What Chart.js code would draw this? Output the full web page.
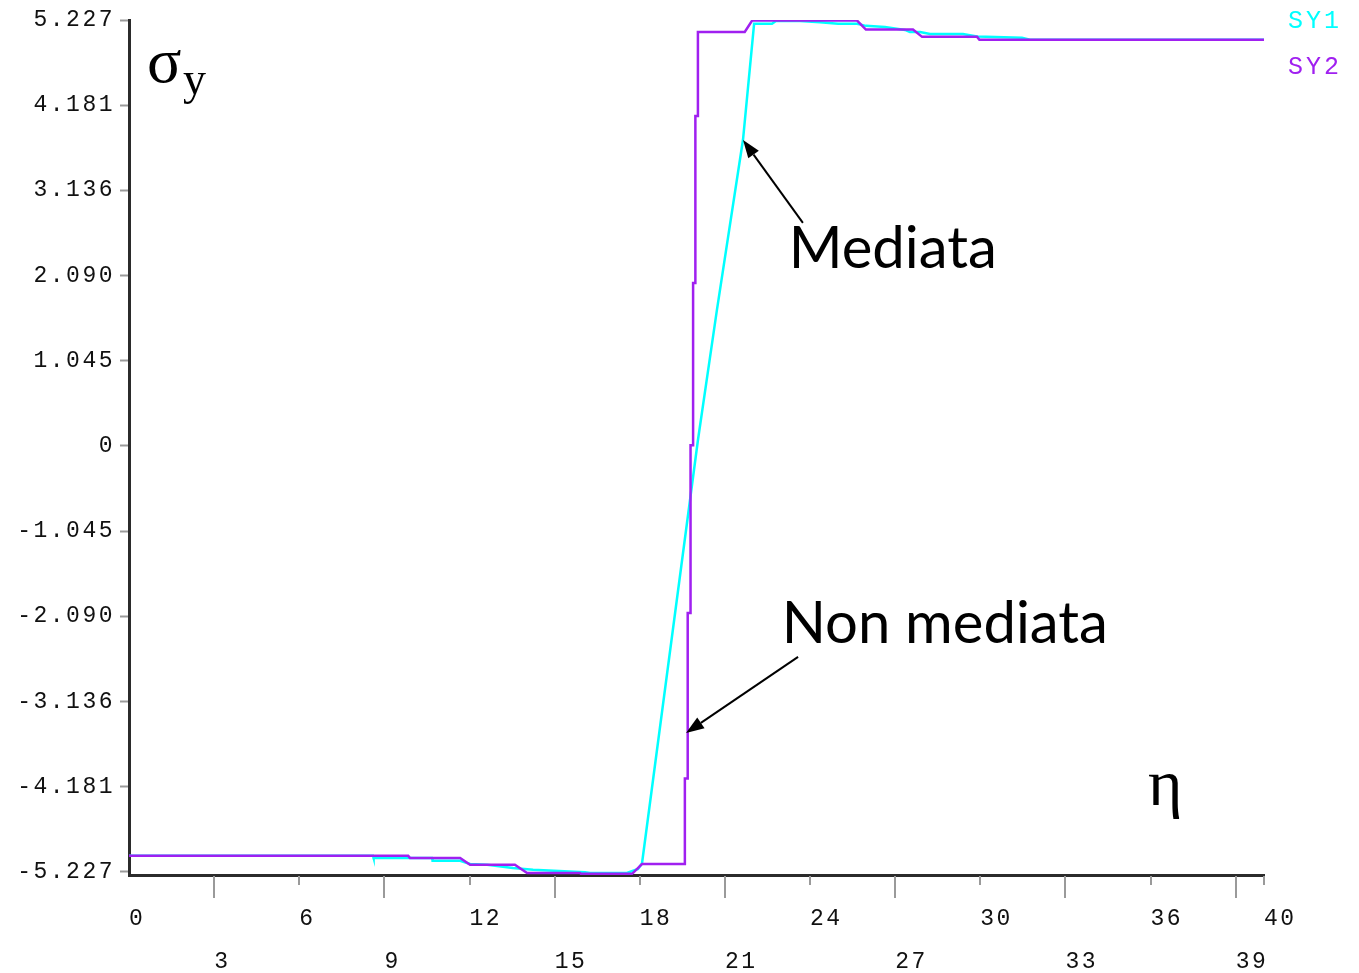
<!DOCTYPE html>
<html>
<head>
<meta charset="utf-8">
<script src="https://cdn.jsdelivr.net/npm/chart.js@4/dist/chart.umd.min.js"></script>
<style>
  html, body { margin: 0; padding: 0; background: #ffffff; }
  #wrap { width: 1359px; height: 973px; }
</style>
</head>
<body>
<div id="wrap"><canvas id="c" width="1359" height="973"></canvas></div>
<script>
// Stress σy along η — averaged (SY1) and non-averaged (SY2) profiles
const sy1X = [0, 8.6, 8.62, 10.68, 10.7, 11.67, 12.02, 12.62, 13.53, 14.24, 16.07, 16.25, 17.55, 17.94, 18.08,
              20.05, 20.72, 21.64, 22.03, 22.66, 22.8, 23.65, 24.35, 24.99, 25.66, 25.97, 26.64, 27.35, 27.52,
              27.88, 28.23, 29.39, 29.89, 31.47, 31.75, 40];
const sy1Y = [-5.03, -5.03, -5.055, -5.055, -5.09, -5.09, -5.13, -5.14, -5.18, -5.2, -5.23, -5.24, -5.24, -5.19, -5.12,
              0.07, 1.67, 3.76, 5.18, 5.18, 5.215, 5.215, 5.2, 5.18, 5.18, 5.155, 5.14, 5.105, 5.08,
              5.08, 5.055, 5.055, 5.025, 5.01, 4.985, 4.985];

const sy2X = [0, 9.84, 9.9, 11.67, 12.02, 13.6, 14.03, 15.89, 15.92, 17.73, 18.08, 19.59, 19.59, 19.69, 19.69,
              19.79, 19.79, 19.88, 19.88, 19.96, 19.96, 20.05, 20.05, 21.7, 21.96, 25.66, 25.97, 27.63, 27.95,
              29.89, 29.97, 40];
const sy2Y = [-5.03, -5.03, -5.055, -5.055, -5.14, -5.14, -5.24, -5.24, -5.25, -5.25, -5.13, -5.13, -4.08, -4.08, -2.05,
              -2.05, 0.01, 0.01, 2.0, 2.0, 4.05, 4.05, 5.08, 5.08, 5.22, 5.22, 5.11, 5.11, 5.02,
              5.02, 4.985, 4.985];

const seriesNames = ['SY1', 'SY2'];

const yTickValues = [-5.227, -4.181, -3.136, -2.090, -1.045, 0, 1.045, 2.090, 3.136, 4.181, 5.227];
const yTickLabels = ['-5.227', '-4.181', '-3.136', '-2.090', '-1.045', '0', '1.045', '2.090', '3.136', '4.181', '5.227'];

const xTickValues = [0, 3, 6, 9, 12, 15, 18, 21, 24, 27, 30, 33, 36, 39, 40];
const xTickLabels = ['0', '3', '6', '9', '12', '15', '18', '21', '24', '27', '30', '33', '36', '39', '40'];

const COLORS = ['#00ffff', '#a020f0'];
const MONO = 'Liberation Mono';

// upper row for multiples of 6 and the end value, lower row otherwise
const inUpperRow = v => v % 6 === 0 || v === 40;

const toPoints = (xs, ys) => xs.map((x, i) => ({ x: x, y: ys[i] }));

// Monospaced axis text is drawn with extra tracking
const tracking = {
  id: 'tracking',
  beforeDraw(chart) { chart.ctx.letterSpacing = '2.5px'; },
  beforeDatasetsDraw(chart) { chart.ctx.letterSpacing = '0px'; }
};

// Tick marks along η: long under the lower-row labels, short otherwise
const xTickMarks = {
  id: 'xTickMarks',
  afterDraw(chart) {
    const ctx = chart.ctx, xs = chart.scales.x, bottom = chart.chartArea.bottom;
    ctx.save();
    ctx.strokeStyle = '#9a9a9a';
    ctx.lineWidth = 2;
    xTickValues.forEach(v => {
      if (v === 0) return;
      const px = Math.round(xs.getPixelForValue(v));
      const len = inUpperRow(v) ? 9 : 22;
      ctx.beginPath();
      ctx.moveTo(px, bottom + 1);
      ctx.lineTo(px, bottom + 1 + len);
      ctx.stroke();
    });
    ctx.restore();
  }
};

// Series names printed in their line colours at the top right
const textLegend = {
  id: 'textLegend',
  afterDraw(chart) {
    const ctx = chart.ctx, area = chart.chartArea;
    ctx.save();
    ctx.letterSpacing = '3px';
    ctx.font = '25px "' + MONO + '"';
    ctx.textAlign = 'left';
    ctx.textBaseline = 'middle';
    chart.data.datasets.forEach((ds, i) => {
      ctx.fillStyle = ds.borderColor;
      ctx.fillText(ds.label, area.right + 24, area.top + 1 + i * 46);
    });
    ctx.restore();
  }
};

// Axis symbols and the two callouts
const notes = {
  id: 'notes',
  afterDraw(chart) {
    const ctx = chart.ctx, xs = chart.scales.x, ys = chart.scales.y;
    const P = (x, y) => [xs.getPixelForValue(x), ys.getPixelForValue(y)];
    ctx.save();
    ctx.letterSpacing = '0px';
    ctx.fillStyle = '#000';
    ctx.textAlign = 'left';
    ctx.textBaseline = 'alphabetic';

    let p = P(0.63, 4.467);
    ctx.font = '64px "Liberation Serif"';
    ctx.fillText('σ', p[0], p[1]);
    p = P(1.9, 4.315);
    ctx.font = '46px "Liberation Serif"';
    ctx.fillText('y', p[0], p[1]);

    p = P(35.91, -4.405);
    ctx.font = '66px "Liberation Serif"';
    ctx.fillText('η', p[0], p[1]);

    ctx.font = '58px Lato';
    p = P(23.25, 2.184);
    ctx.fillText('Mediata', p[0], p[1]);
    p = P(23.0, -2.417);
    ctx.fillText('Non mediata', p[0], p[1]);

    const arrow = (from, to) => {
      const a = P(from[0], from[1]), b = P(to[0], to[1]);
      const ang = Math.atan2(b[1] - a[1], b[0] - a[0]);
      const L = 18, W = 6.5;
      const bx = b[0] - L * Math.cos(ang), by = b[1] - L * Math.sin(ang);
      ctx.strokeStyle = '#000';
      ctx.lineWidth = 2;
      ctx.beginPath();
      ctx.moveTo(a[0], a[1]);
      ctx.lineTo(bx, by);
      ctx.stroke();
      ctx.beginPath();
      ctx.moveTo(b[0], b[1]);
      ctx.lineTo(bx + W * Math.sin(ang), by - W * Math.cos(ang));
      ctx.lineTo(bx - W * Math.sin(ang), by + W * Math.cos(ang));
      ctx.closePath();
      ctx.fill();
    };
    arrow([23.75, 2.737], [21.64, 3.755]);
    arrow([23.58, -2.589], [19.63, -3.522]);
    ctx.restore();
  }
};

new Chart(document.getElementById('c'), {
  type: 'line',
  data: {
    datasets: [
      { label: seriesNames[0], data: toPoints(sy1X, sy1Y), borderColor: COLORS[0], borderWidth: 2.5,
        pointRadius: 0, tension: 0, fill: false, order: 2 },
      { label: seriesNames[1], data: toPoints(sy2X, sy2Y), borderColor: COLORS[1], borderWidth: 2.5,
        pointRadius: 0, tension: 0, fill: false, order: 1 }
    ]
  },
  options: {
    responsive: false,
    animation: false,
    layout: { padding: { top: 20, right: 95, bottom: 0, left: 0 } },
    plugins: { legend: { display: false }, tooltip: { enabled: false } },
    scales: {
      x: {
        type: 'linear', min: 0, max: 40,
        afterBuildTicks: s => { s.ticks = xTickValues.map(v => ({ value: v })); },
        afterFit: s => { s.height = 98; },
        border: { display: true, color: '#2b2b2b', width: 3 },
        grid: { drawOnChartArea: false, drawTicks: true, tickLength: 21, tickColor: 'rgba(0,0,0,0)' },
        ticks: {
          align: 'start', maxRotation: 0, minRotation: 0, autoSkip: false, padding: 1,
          color: '#111',
          font: { family: MONO, size: 23, lineHeight: 1.87 },
          callback: v => {
            const t = xTickLabels[xTickValues.indexOf(v)];
            return inUpperRow(v) ? [t, ''] : ['', t];
          }
        }
      },
      y: {
        type: 'linear', min: -5.265, max: 5.227,
        afterBuildTicks: s => { s.ticks = yTickValues.map(v => ({ value: v })); },
        afterFit: s => { s.width = 129; },
        border: { display: true, color: '#2b2b2b', width: 3 },
        grid: { drawOnChartArea: false, drawTicks: true, tickLength: 9, tickColor: '#9a9a9a', tickWidth: 2 },
        ticks: {
          padding: 5, autoSkip: false, color: '#111',
          font: { family: MONO, size: 23 },
          callback: v => yTickLabels[yTickValues.indexOf(v)]
        }
      }
    }
  },
  plugins: [tracking, xTickMarks, textLegend, notes]
});
</script>
</body>
</html>
